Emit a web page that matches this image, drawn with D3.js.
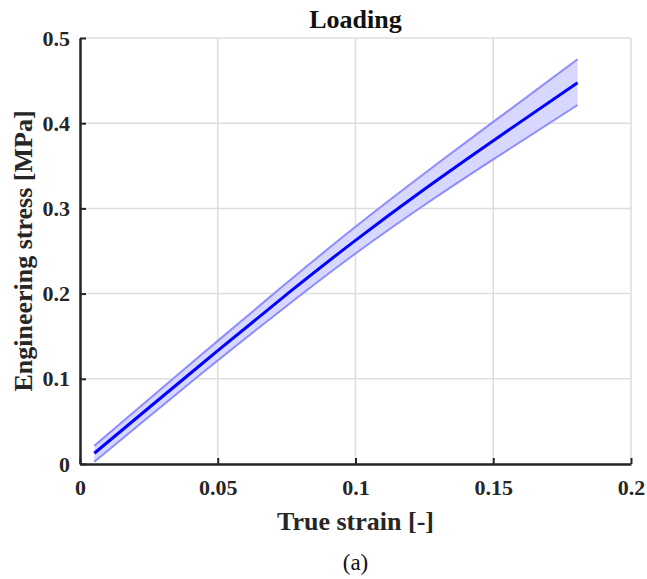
<!DOCTYPE html>
<html>
<head>
    <title>loading</title>
    <script src="https://d3js.org/d3.v7.min.js"></script>
    <style>
        body { margin: 0; background: #fff; }
        text { font-family: "Liberation Serif", "DejaVu Serif", serif; }
    </style>
</head>
<body>
    <svg width="647" height="579" id="mainsvg"></svg>
    <script>
        // data
        const strain = [0.0052, 0.025, 0.05, 0.075, 0.1, 0.125, 0.15, 0.1806];
        const stressMean = [0.0126, 0.066, 0.133, 0.199, 0.2625, 0.3225, 0.3795, 0.4476];
        const stressUpper = [0.0215, 0.076, 0.1445, 0.2125, 0.2785, 0.341, 0.4015, 0.475];
        const stressLower = [0.0027, 0.0555, 0.1215, 0.1855, 0.247, 0.304, 0.3575, 0.4214];
        const xTicks = [0, 0.05, 0.1, 0.15, 0.2];
        const yTicks = [0, 0.1, 0.2, 0.3, 0.4, 0.5];

        const svg = d3.select('#mainsvg');
        const margin = { top: 38, right: 16, bottom: 115, left: 80 };
        const width = 647 - margin.left - margin.right;
        const height = 579 - margin.top - margin.bottom;
        const g = svg.append('g').attr('transform', `translate(${margin.left},${margin.top})`);

        const x = d3.scaleLinear().domain([0, 0.2]).range([0, width]);
        const y = d3.scaleLinear().domain([0, 0.5]).range([height, 0]);

        // grid
        g.selectAll('.gx').data(xTicks).enter().append('line')
            .attr('x1', d => x(d)).attr('x2', d => x(d))
            .attr('y1', 0).attr('y2', height)
            .attr('stroke', '#dedede').attr('stroke-width', 1.5);
        g.selectAll('.gy').data(yTicks).enter().append('line')
            .attr('y1', d => y(d)).attr('y2', d => y(d))
            .attr('x1', 0).attr('x2', width)
            .attr('stroke', '#dedede').attr('stroke-width', 1.5);

        const pts = strain.map((s, i) => ({ s: s, m: stressMean[i], u: stressUpper[i], l: stressLower[i] }));
        const crv = d3.curveNatural;

        // band
        g.append('path').datum(pts)
            .attr('fill', 'rgb(215,215,255)')
            .attr('d', d3.area().x(d => x(d.s)).y0(d => y(d.l)).y1(d => y(d.u)).curve(crv));
        g.append('path').datum(pts)
            .attr('fill', 'none').attr('stroke', '#8c8cff').attr('stroke-width', 2)
            .attr('d', d3.line().x(d => x(d.s)).y(d => y(d.u)).curve(crv));
        g.append('path').datum(pts)
            .attr('fill', 'none').attr('stroke', '#8c8cff').attr('stroke-width', 2)
            .attr('d', d3.line().x(d => x(d.s)).y(d => y(d.l)).curve(crv));
        g.append('path').datum(pts)
            .attr('fill', 'none').attr('stroke', '#0000ff').attr('stroke-width', 3)
            .attr('d', d3.line().x(d => x(d.s)).y(d => y(d.m)).curve(crv));

        // axes
        const xAxis = g.append('g').attr('transform', `translate(0,${height})`)
            .call(d3.axisBottom(x).tickValues(xTicks).tickFormat(d => d).tickSizeInner(-6).tickSizeOuter(0).tickPadding(15));
        const yAxis = g.append('g')
            .call(d3.axisLeft(y).tickValues(yTicks).tickFormat(d => d).tickSizeInner(-6).tickSizeOuter(0).tickPadding(10));
        [xAxis, yAxis].forEach(a => {
            a.select('.domain').attr('stroke', '#262626').attr('stroke-width', 2.5);
            a.selectAll('.tick line').attr('stroke', '#262626').attr('stroke-width', 2);
            a.selectAll('.tick text')
                .attr('font-family', '"Liberation Serif", serif')
                .attr('font-size', 22).attr('font-weight', 'bold').attr('fill', '#262626');
        });

        // labels
        svg.append('text').attr('x', margin.left + width / 2).attr('y', 28)
            .attr('text-anchor', 'middle').attr('font-size', 26).attr('font-weight', 'bold')
            .attr('fill', '#111').text('Loading');
        svg.append('text').attr('x', margin.left + width / 2).attr('y', 530)
            .attr('text-anchor', 'middle').attr('font-size', 26).attr('font-weight', 'bold')
            .attr('fill', '#262626').text('True strain [-]');
        svg.append('text')
            .attr('transform', `translate(32,${margin.top + height / 2}) rotate(-90)`)
            .attr('text-anchor', 'middle').attr('font-size', 26).attr('font-weight', 'bold')
            .attr('fill', '#262626').text('Engineering stress [MPa]');
        svg.append('text').attr('x', margin.left + width / 2).attr('y', 570)
            .attr('text-anchor', 'middle').attr('font-size', 23)
            .attr('fill', '#111').text('(a)');
    </script>
</body>
</html>
